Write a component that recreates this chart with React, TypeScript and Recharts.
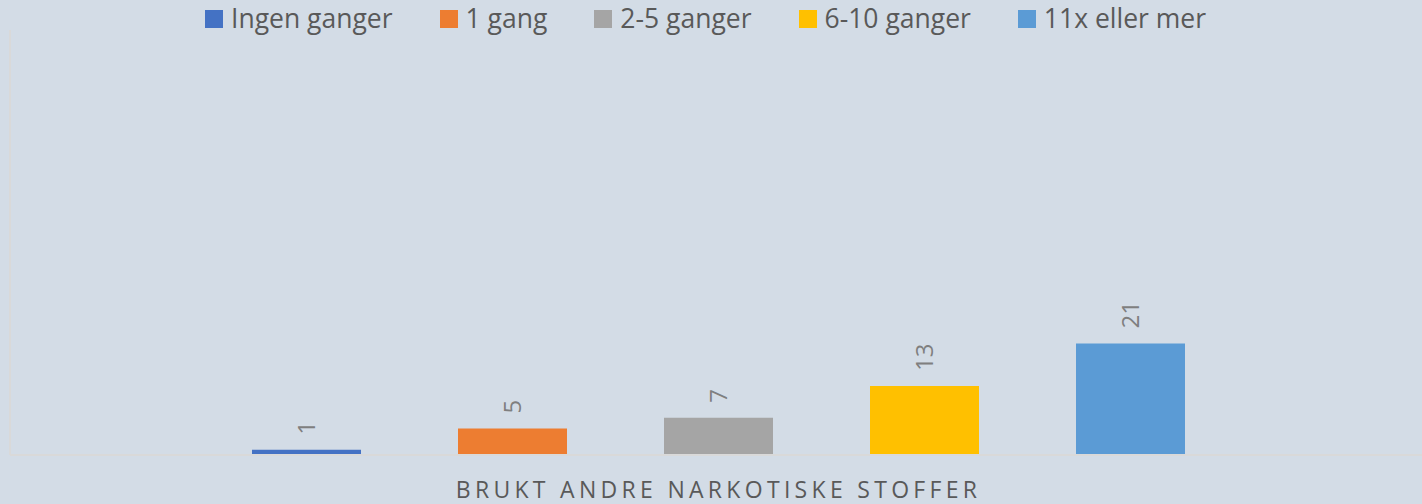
import React from "react";
import { BarChart, Bar, XAxis, YAxis, LabelList } from "recharts";

const categories = ["BRUKT ANDRE NARKOTISKE STOFFER"];
const seriesNames = ["Ingen ganger", "1 gang", "2-5 ganger", "6-10 ganger", "11x eller mer"];
const seriesValues = [[1], [5], [7], [13], [21]];
const seriesColors = ["#4472C4", "#ED7D31", "#A5A5A5", "#FFC000", "#5B9BD5"];
const yDomain = [0, 80];

const data = categories.map((c, i) => {
  const row: Record<string, string | number> = { category: c };
  seriesNames.forEach((_, s) => {
    row["s" + s] = seriesValues[s][i];
  });
  return row;
});

const FONT = "'Open Sans', 'DejaVu Sans', sans-serif";

const RotLabel = (props: any) => {
  const { x, y, width, value } = props;
  const cx = Number(x) + Number(width) / 2;
  const ty = Number(y) - 15;
  return (
    <text
      x={cx}
      y={ty}
      dy="0.36em"
      transform={`rotate(-90, ${cx}, ${ty})`}
      textAnchor="start"
      fill="#7F7F7F"
      fontSize={24}
      fontFamily={FONT}
    >
      {value}
    </text>
  );
};

const CatTick = (props: any) => {
  const { x, payload } = props;
  return (
    <text
      x={x}
      y={498}
      textAnchor="middle"
      fill="#595959"
      fontSize={23}
      fontFamily={FONT}
      letterSpacing={4.3}
    >
      {payload.value}
    </text>
  );
};

export default function App() {
  return (
    <div
      style={{
        position: "absolute",
        left: 0,
        top: 0,
        width: 1422,
        height: 504,
        overflow: "hidden",
        background: "#D3DCE6",
      }}
    >
      <BarChart
        width={1422}
        height={504}
        data={data}
        margin={{ top: 30, right: -5, left: 0, bottom: 0 }}
        barSize={109}
        barGap={97}
      >
        <XAxis
          dataKey="category"
          height={49}
          axisLine={{ stroke: "#D9D9D9", strokeWidth: 2 }}
          tickLine={false}
          tick={<CatTick />}
          interval={0}
        />
        <YAxis
          width={10}
          domain={yDomain}
          tick={false}
          tickLine={false}
          axisLine={{ stroke: "#D9D9D9", strokeWidth: 2 }}
        />
        {seriesNames.map((n, s) => (
          <Bar key={n} dataKey={"s" + s} name={n} fill={seriesColors[s]} isAnimationActive={false}>
            <LabelList dataKey={"s" + s} content={<RotLabel />} />
          </Bar>
        ))}
      </BarChart>
      <div
        style={{
          position: "absolute",
          left: 205,
          top: 0,
          height: 37,
          display: "flex",
          alignItems: "center",
          gap: 47,
          fontFamily: FONT,
          fontSize: 26.5,
          color: "#595959",
          whiteSpace: "nowrap",
        }}
      >
        {seriesNames.map((n, s) => (
          <div key={n} style={{ display: "flex", alignItems: "center" }}>
            <span
              style={{
                display: "inline-block",
                width: 18,
                height: 18,
                background: seriesColors[s],
                marginRight: 8,
              }}
            />
            <span style={{ lineHeight: "37px" }}>{n}</span>
          </div>
        ))}
      </div>
    </div>
  );
}
